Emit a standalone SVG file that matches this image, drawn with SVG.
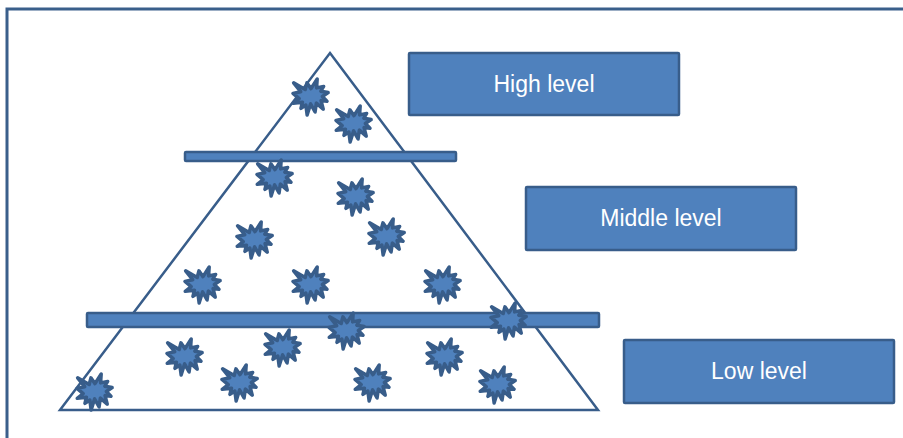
<svg xmlns="http://www.w3.org/2000/svg" width="903" height="438" viewBox="0 0 903 438">
<style>
.shape{fill:#4F81BD;stroke:#385D8A;stroke-width:2.5;stroke-linejoin:round}
.st{stroke-width:3.5}
.line{fill:none;stroke:#385D8A;stroke-width:2.5;stroke-linejoin:miter}
.lbl{fill:#FFFFFF;font-family:"Liberation Sans","DejaVu Sans",sans-serif;font-size:23px;text-anchor:middle;dominant-baseline:central}
</style>
<defs>
<path id="star" class="shape st" transform="translate(-18,-18)" d="M18,9.67 L24.2,0 L23.59,8.88 L30.63,7.43 L27.84,12.19 L35.16,13.56 L29.35,17.46 L34,22.15 L28.06,21.57 L30.24,30.16 L23.37,24.1 L22.08,32.9 L17.55,24.89 L14.14,36 L12.86,26.05 L7.94,29.36 L9.45,23.23 L0.23,24.31 L6.2,19.63 L0,14.36 L7.71,12.7 L0.62,3.83 L12.19,10.53 L13.92,3.83 Z"/>
</defs>
<rect width="903" height="438" fill="#FFFFFF"/>
<g id="frame">
<path d="M7,438 L7,9 L903,9" fill="none" stroke="#3A5F8B" stroke-width="3"/>
</g>
<g id="pyramid">
<polygon class="line" points="330,53 598,410 60,410"/>
</g>
<g id="bands">
<rect id="band-top" class="shape" x="185" y="152" width="271" height="9" rx="1"/>
<rect id="band-bottom" class="shape" x="87" y="313" width="512" height="14" rx="1"/>
</g>
<g id="stars">
<use href="#star" x="311" y="97"/>
<use href="#star" x="354" y="124"/>
<use href="#star" x="275" y="178"/>
<use href="#star" x="356" y="197"/>
<use href="#star" x="255" y="240"/>
<use href="#star" x="387" y="237"/>
<use href="#star" x="203" y="285"/>
<use href="#star" x="311" y="285"/>
<use href="#star" x="443" y="285"/>
<use href="#star" x="509" y="321"/>
<use href="#star" x="347" y="331"/>
<use href="#star" x="283" y="348"/>
<use href="#star" x="185" y="357"/>
<use href="#star" x="445" y="357"/>
<use href="#star" x="240" y="383"/>
<use href="#star" x="373" y="383"/>
<use href="#star" x="498" y="385"/>
<use href="#star" x="95" y="392"/>
</g>
<g id="high-level">
<rect class="shape" x="409" y="53" width="270" height="62" rx="1"/>
<text class="lbl" x="544" y="84">High level</text>
</g>
<g id="middle-level">
<rect class="shape" x="526" y="187" width="270" height="63" rx="1"/>
<text class="lbl" x="661" y="218">Middle level</text>
</g>
<g id="low-level">
<rect class="shape" x="624" y="340" width="270" height="63" rx="1"/>
<text class="lbl" x="759" y="371">Low level</text>
</g>
</svg>
